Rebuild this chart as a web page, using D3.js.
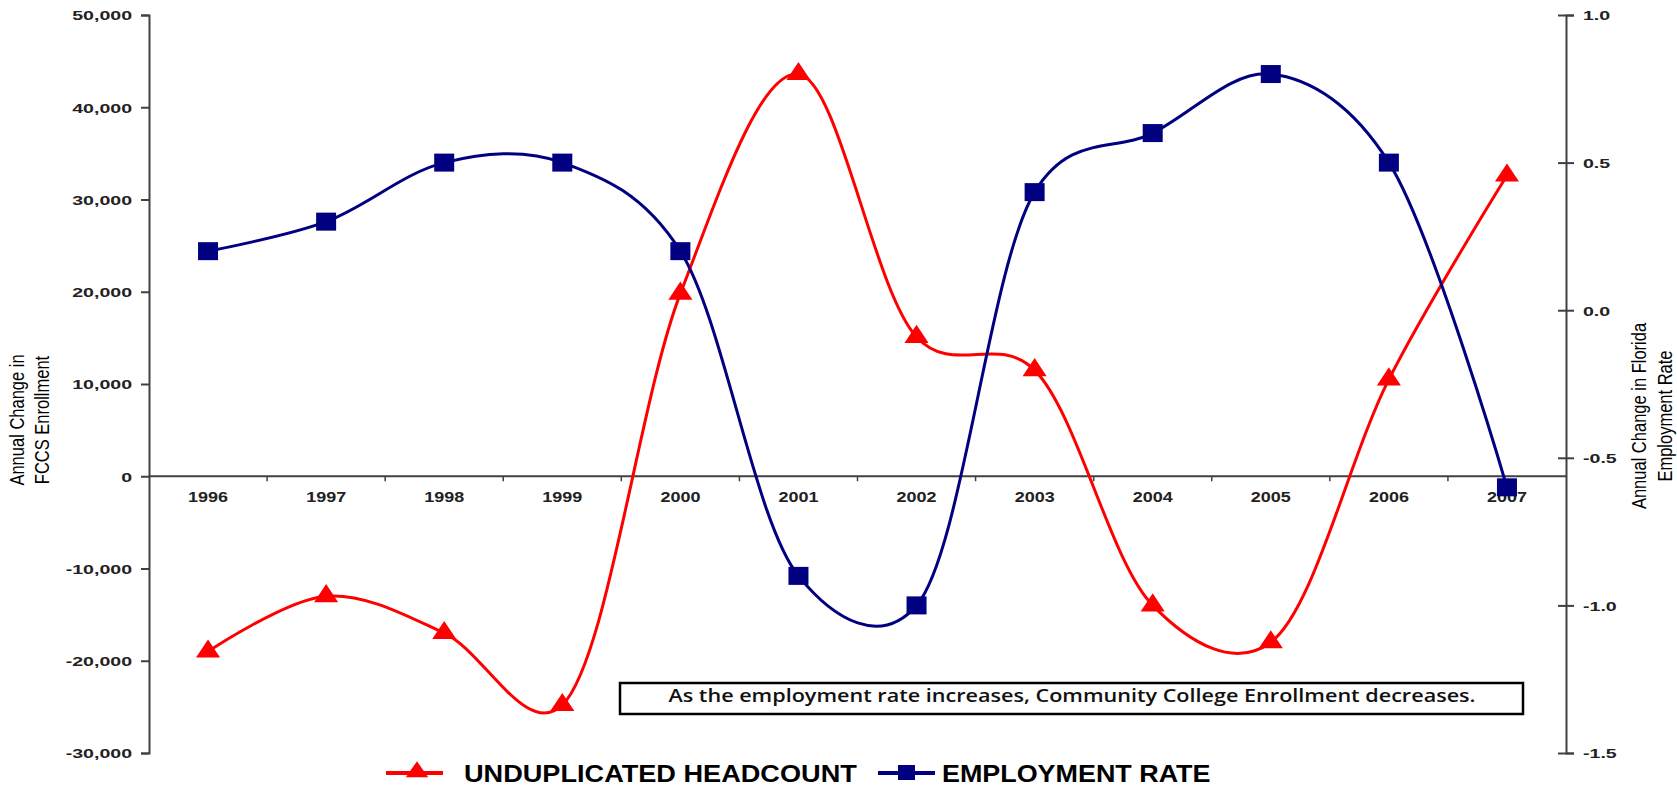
<!DOCTYPE html>
<html>
<head>
<meta charset="utf-8">
<script src="https://cdn.jsdelivr.net/npm/d3@7"></script>
<style>
  body { margin: 0; background: #fff; }
  svg { display: block; }
  text { font-family: "Liberation Sans", Arial, sans-serif; }
</style>
</head>
<body>
<svg width="1677" height="790"></svg>
<script>
// data
var years = ["1996","1997","1998","1999","2000","2001","2002","2003","2004","2005","2006","2007"];
var headcount = [-19000, -13000, -17000, -24800, 19800, 43600, 15100, 11500, -14000, -18000, 10500, 32600];
var employment = [0.2, 0.3, 0.5, 0.5, 0.2, -0.9, -1.0, 0.4, 0.6, 0.8, 0.5, -0.6];
var leftTicks = [50000, 40000, 30000, 20000, 10000, 0, -10000, -20000, -30000];
var rightTicks = [1.0, 0.5, 0.0, -0.5, -1.0, -1.5];
var note = "As the employment rate increases, Community College Enrollment decreases.";

var svg = d3.select("svg");

// plot box (the picture looks stretched sideways, so text gets a wider scale)
var pL = 149, pR = 1566, pT = 15, pB = 753;
var sx = 1.2;

var x = d3.scaleBand().domain(years).range([pL, pR]);
var yL = d3.scaleLinear().domain([-30000, 50000]).range([pB, pT]);
var yR = d3.scaleLinear().domain([-1.5, 1.0]).range([pB, pT]);

// plain hyphen for negatives, like the original
var loc = d3.formatLocale({decimal: ".", thousands: ",", grouping: [3], currency: ["$", ""], minus: "-"});

var axisColor = "#404040";

// left axis
var gL = svg.append("g").attr("transform", "translate(" + pL + ",0)")
  .call(d3.axisLeft(yL).tickValues(leftTicks).tickSize(8)
    .tickFormat(loc.format(",")));
gL.selectAll("path, line").attr("stroke", axisColor).attr("stroke-width", 2);
gL.selectAll("text").attr("font-size", 13.5).attr("font-weight", "bold")
  .attr("fill", "#222").attr("dy", "0.36em")
  .attr("transform", "scale(1.45,1)").attr("x", -17 / 1.45);

// right axis
var gR = svg.append("g").attr("transform", "translate(" + pR + ",0)")
  .call(d3.axisRight(yR).tickValues(rightTicks).tickSize(8)
    .tickFormat(loc.format(".1f")));
gR.selectAll("path, line").attr("stroke", axisColor).attr("stroke-width", 2);
gR.selectAll(".tick line").attr("x1", -8);
gR.selectAll("text").attr("font-size", 13.5).attr("font-weight", "bold")
  .attr("fill", "#222").attr("dy", "0.36em")
  .attr("transform", "scale(1.45,1)").attr("x", 17 / 1.45);

// category axis sits on zero of the left scale
var y0 = yL(0);
svg.append("line").attr("x1", pL).attr("x2", pR).attr("y1", y0).attr("y2", y0)
  .attr("stroke", axisColor).attr("stroke-width", 2);
svg.selectAll(".xtick").data(years.slice(1)).enter().append("line")
  .attr("class", "xtick")
  .attr("x1", function(d) { return x(d); }).attr("x2", function(d) { return x(d); })
  .attr("y1", y0).attr("y2", y0 + 5)
  .attr("stroke", axisColor).attr("stroke-width", 1.5);
svg.selectAll(".xlabel").data(years).enter().append("text")
  .attr("class", "xlabel")
  .attr("transform", function(d) { return "translate(" + (x(d) + x.bandwidth() / 2) + "," + (y0 + 26) + ") scale(1.24,1)"; })
  .attr("text-anchor", "middle")
  .attr("font-size", 14.5).attr("font-weight", "bold").attr("fill", "#222")
  .text(function(d) { return d; });

// axis titles
function vTitle(tx, ty, s) {
  svg.append("text").attr("transform", "translate(" + tx + "," + ty + ") rotate(-90) scale(1," + sx + ")")
    .attr("text-anchor", "middle").attr("font-size", 16.5).attr("fill", "#000")
    .text(s);
}
vTitle(24, 420, "Annual Change in");
vTitle(49, 420, "FCCS Enrollment");
vTitle(1646, 416, "Annual Change in Florida");
vTitle(1672, 416, "Employment Rate");

var cx = function(d, i) { return x(years[i]) + x.bandwidth() / 2; };

// smoothed lines
var lineL = d3.line().x(cx).y(function(d) { return yL(d); }).curve(d3.curveCatmullRom.alpha(0.2));
var lineR = d3.line().x(cx).y(function(d) { return yR(d); }).curve(d3.curveCatmullRom.alpha(0.2));

svg.append("path").datum(headcount).attr("d", lineL)
  .attr("fill", "none").attr("stroke", "#ff0000").attr("stroke-width", 3);
svg.append("path").datum(employment).attr("d", lineR)
  .attr("fill", "none").attr("stroke", "#000080").attr("stroke-width", 3);

var tri = d3.symbol().type(d3.symbolTriangle).size(190);
svg.selectAll(".tri").data(headcount).enter().append("path")
  .attr("class", "tri")
  .attr("d", tri)
  .attr("transform", function(d, i) { return "translate(" + cx(d, i) + "," + yL(d) + ") scale(1.15,1)"; })
  .attr("fill", "#ff0000");

svg.selectAll(".sq").data(employment).enter().append("rect")
  .attr("class", "sq")
  .attr("x", function(d, i) { return cx(d, i) - 10; })
  .attr("y", function(d) { return yR(d) - 9; })
  .attr("width", 20).attr("height", 18)
  .attr("fill", "#000080");

// note box
svg.append("rect").attr("x", 620).attr("y", 683).attr("width", 903).attr("height", 31)
  .attr("fill", "#fff").attr("stroke", "#000").attr("stroke-width", 2.5);
svg.append("text").attr("transform", "translate(1072,702) scale(" + sx + ",1)")
  .attr("text-anchor", "middle")
  .style("font-family", "'Open Sans', sans-serif")
  .attr("font-size", 18).attr("font-weight", 600).attr("fill", "#111")
  .text(note);

// legend
var ly = 773;
svg.append("line").attr("x1", 386).attr("x2", 443).attr("y1", ly).attr("y2", ly)
  .attr("stroke", "#ff0000").attr("stroke-width", 4);
svg.append("path").attr("d", d3.symbol().type(d3.symbolTriangle).size(150))
  .attr("transform", "translate(417," + (ly - 1) + ") scale(1.2,1)").attr("fill", "#ff0000");
svg.append("text").attr("transform", "translate(464,782) scale(1.18,1)")
  .attr("font-size", 23).attr("font-weight", "bold").attr("fill", "#000")
  .text("UNDUPLICATED HEADCOUNT");
svg.append("line").attr("x1", 878).attr("x2", 935).attr("y1", ly).attr("y2", ly)
  .attr("stroke", "#000080").attr("stroke-width", 4);
svg.append("rect").attr("x", 898).attr("y", ly - 8).attr("width", 17).attr("height", 15)
  .attr("fill", "#000080");
svg.append("text").attr("transform", "translate(942,782) scale(1.17,1)")
  .attr("font-size", 23).attr("font-weight", "bold").attr("fill", "#000")
  .text("EMPLOYMENT RATE");
</script>
</body>
</html>
